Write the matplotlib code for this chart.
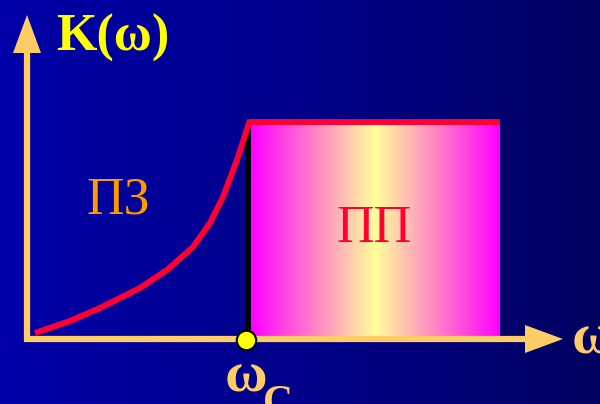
import matplotlib
matplotlib.use('Agg')
import matplotlib.pyplot as plt
import numpy as np
from matplotlib.colors import LinearSegmentedColormap

# data (picture coordinates, y grows downward)
curve_x = [35, 70, 100, 140, 167, 193, 210, 223, 237, 250]
curve_y = [333, 321, 308, 288, 270, 247, 223, 197, 160, 120]
w_cut = 248
w_end = 500
k_pass = 122
origin = (27, 339)

fig = plt.figure(figsize=(6, 4.04), dpi=100)
ax = fig.add_axes([0, 0, 1, 1])
ax.set_xlim(0, 600)
ax.set_ylim(404, 0)
ax.axis('off')

# background gradient
bg = LinearSegmentedColormap.from_list('bg', ['#0000a8', '#00008a', '#000060'])
ax.imshow(np.linspace(0, 1, 256).reshape(1, -1), cmap=bg, aspect='auto',
          extent=(0, 600, 404, 0), zorder=0)

# pass band gradient
pb = LinearSegmentedColormap.from_list('pb', ['#ff00ff', '#ff80c8', '#ffff99', '#ff80c8', '#ff00ff'])
ax.imshow(np.linspace(0, 1, 256).reshape(1, -1), cmap=pb, aspect='auto',
          extent=(w_cut + 3, w_end, origin[1] - 2, k_pass), zorder=1)

# axes with arrows
ax.plot([origin[0], origin[0]], [origin[1] + 3, 50], color='#ffcc66', lw=4.5,
        solid_capstyle='butt', zorder=2)
ax.plot([origin[0] - 3, 528], [origin[1], origin[1]], color='#ffcc66', lw=4.5,
        solid_capstyle='butt', zorder=2)
ax.fill([13, 41, 27], [53, 53, 15], color='#ffcc66', lw=0, zorder=2)
ax.fill([525, 525, 563], [325, 353, 339], color='#ffcc66', lw=0, zorder=2)

# cutoff line and response
ax.plot([w_cut, w_cut], [k_pass + 3, origin[1]], color='black', lw=4, zorder=3)
ax.plot(curve_x, curve_y, color='#ff0033', lw=4.3, solid_capstyle='butt', zorder=4)
ax.plot([w_cut + 1, w_end], [k_pass, k_pass], color='#ff0033', lw=4.3,
        solid_capstyle='butt', zorder=4)
ax.plot([w_cut - 2], [origin[1] + 1], 'o', ms=14, mfc='#ffff00', mec='black',
        mew=1.5, zorder=5)

# labels
serif = 'Liberation Serif'
ax.text(56, 38, 'K(ω)', color='#ffff00', fontsize=37.5, fontweight='bold',
        family=serif, ha='left', va='center', zorder=6)
ax.text(87, 201, 'ПЗ', color='#ff9900', fontsize=37.5, family=serif,
        ha='left', va='center', zorder=6)
ax.text(337, 229, 'ПП', color='#ff0033', fontsize=37.5, family=serif,
        ha='left', va='center', zorder=6)
ax.text(225, 378, 'ω', color='#ffcc66', fontsize=42, fontweight='bold',
        family=serif, ha='left', va='center', zorder=6)
ax.text(263, 404, 'C', color='#ffcc66', fontsize=30, fontweight='bold',
        family=serif, ha='left', va='center', zorder=6)
ax.text(572, 339, 'ω', color='#ffcc66', fontsize=42, fontweight='bold',
        family=serif, ha='left', va='center', zorder=6)

fig.savefig('out.png', dpi=100)
